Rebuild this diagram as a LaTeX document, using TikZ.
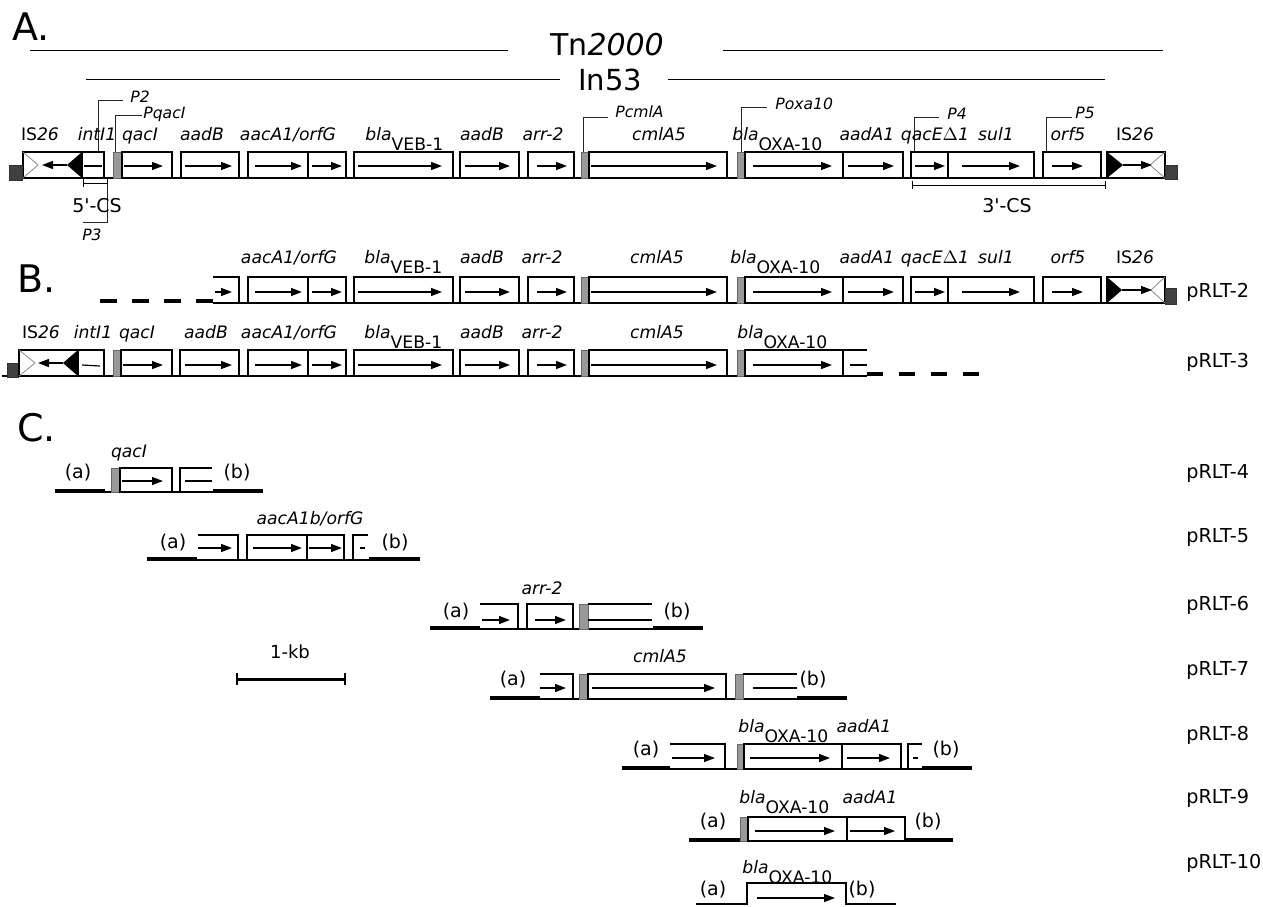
\documentclass[tikz,border=0pt]{standalone}
\usepackage{fontspec}
\setmainfont{DejaVu Sans}
\usetikzlibrary{arrows.meta}
\tikzset{
 gbox/.style={draw=black, line width=0.6pt, fill=white},
 graybox/.style={draw=black!60, line width=0.4pt, fill=black!40},
 garr/.style={line width=0.7pt, -{Triangle[length=5.5pt,width=4pt]}},
 bline/.style={line width=0.6pt},
 baseln/.style={line width=1pt},
 tbar/.style={line width=2.2pt},
 pmark/.style={line width=0.4pt, draw=black!85},
 isx/.style={draw=black!45, line width=0.4pt},
 dsq/.style={fill=black!75, draw=black!80, line width=0.3pt},
 glab/.style={font=\fontsize{8.6}{9}\selectfont\itshape, anchor=base, inner sep=0pt},
 blab/.style={font=\fontsize{8.6}{9}\selectfont\itshape, anchor=base west, inner sep=0pt},
 plab/.style={font=\fontsize{7.8}{9}\selectfont\itshape, anchor=base west, inner sep=0pt},
 rlab/.style={font=\fontsize{9.6}{10}\selectfont, anchor=base west, inner sep=0pt},
 ablab/.style={font=\fontsize{9.5}{11}\selectfont, inner sep=0pt},
 cslab/.style={font=\fontsize{9.5}{11}\selectfont, anchor=base, inner sep=0pt},
 seclab/.style={font=\fontsize{19}{22}\selectfont, anchor=base west, inner sep=0pt},
}
\newcommand\GB[4]{\draw[gbox] (#1,#3) rectangle (#2,#4);}
\newcommand\GA[3]{\draw[garr] (#1,#3) -- (#2,#3);}
\newcommand\GR[4]{\draw[graybox] (#1,#3) rectangle (#2,#4);}
\newcommand\BLA[1]{bla\raisebox{-5pt}{\upshape #1}}
\newcommand\MIDROW[3]{%
 \GB{248}{346}{#1}{#2}\draw[bline] (308,#1)--(308,#2);\GA{255}{302}{#3}\GA{312}{342}{#3}
 \GB{354}{453}{#1}{#2}\GA{358}{442}{#3}
 \GB{460}{519}{#1}{#2}\GA{465}{510}{#3}
 \GB{528}{574}{#1}{#2}\GA{537}{567}{#3}
 \GR{581}{589}{#1}{#2}
 \GB{589}{727}{#1}{#2}\GA{591}{717}{#3}
 \GR{737}{745}{#1}{#2}
 \GB{745}{843}{#1}{#2}\GA{753}{832}{#3}}
\newcommand\RIGHTROW[3]{%
 \GB{843}{903}{#1}{#2}\GA{848}{894}{#3}
 \GB{911}{948}{#1}{#2}\GA{915}{945}{#3}
 \GB{948}{1034}{#1}{#2}\GA{962}{1020}{#3}
 \GB{1043}{1101}{#1}{#2}\GA{1052}{1083}{#3}
 \GB{1107}{1165}{#1}{#2}}
\newcommand\MIDLAB[1]{%
 \node[glab] at (289,#1) {aacA1/orfG};
 \node[blab] at (364,#1) {\BLA{VEB-1}};
 \node[glab] at (482,#1) {aadB};
 \node[glab] at (542,#1) {arr-2};
 \node[glab] at (657,#1) {cmlA5};}
\newcommand\RIGHTLAB[1]{%
 \node[glab] at (867,#1) {aadA1};
 \node[glab] at (935,#1) {qacE\(\Delta\)1};
 \node[glab] at (996,#1) {sul1};
 \node[glab] at (1068,#1) {orf5};
 \node[glab] at (1135,#1) {\upshape IS\itshape 26};}
\begin{document}
\begin{tikzpicture}[x=0.5pt,y=-0.5pt]
\useasboundingbox[fill=white] (0,0) rectangle (1263,906);
% ---------- A ----------
\node[seclab] (secA) at (12,40) {A.};
\draw[line width=0.5pt] (30,50) -- (508,50);
\draw[line width=0.5pt] (723,50) -- (1163,50);
\node[font=\fontsize{15}{18}\selectfont, anchor=base, inner sep=0pt] (tn) at (607,55) {Tn\textit{2000}};
\draw[line width=0.5pt] (86,79) -- (560,79);
\draw[line width=0.5pt] (668,79) -- (1105,79);
\node[font=\fontsize{14.5}{18}\selectfont, anchor=base, inner sep=0pt] (in) at (610,90) {In53};
\draw[baseln] (22,178) -- (1165,178);
% left IS26
\GB{23}{82}{152}{178}
\draw[isx] (23,152)--(38,165)--(23,178);
\fill (82,152)--(67,165)--(82,178)--cycle;
\draw[garr] (67,165)--(42,165);
\draw[dsq] (9,165) rectangle (22,180);
% intI1
\GB{82}{104}{152}{178}
\draw[bline] (84,166)--(102,166);
\draw[pmark] (98,152)--(98,100)--(123,100);
\node[plab] at (130,102) {P2};
\GR{113}{122}{152}{178}
\draw[pmark] (115,152)--(115,115)--(142,115);
\node[plab] at (143,118) {PqacI};
\GB{122}{172}{152}{178}\GA{124}{163}{166}
\GB{181}{239}{152}{178}\GA{185}{232}{166}
\MIDROW{152}{178}{166}
\RIGHTROW{152}{178}{166}
\draw[pmark] (583,152)--(583,117)--(608,117);
\node[plab] at (615,117) {PcmlA};
\draw[pmark] (741,152)--(741,107)--(767,107);
\node[plab] at (775,109) {Poxa10};
\draw[pmark] (914,152)--(914,117)--(939,117);
\node[plab] at (947,119) {P4};
\draw[pmark] (1046,152)--(1046,117)--(1072,117);
\node[plab] at (1075,118) {P5};
% right IS26
\draw[isx] (1165,152)--(1150,165)--(1165,178);
\fill (1107,152)--(1123,165)--(1107,178)--cycle;
\draw[garr] (1123,165)--(1152,165);
\draw[dsq] (1165,165) rectangle (1177,179);
% labels A
\node[glab] at (40,140) {\upshape IS\itshape 26};
\node[glab] at (97,140) {intI1};
\node[glab] at (140,140) {qacI};
\node[glab] at (202,140) {aadB};
\node[glab] at (288,140) {aacA1/orfG};
\node[blab] at (365,140) {\BLA{VEB-1}};
\node[glab] at (482,140) {aadB};
\node[glab] at (543,140) {arr-2};
\node[glab] at (659,140) {cmlA5};
\node[blab] at (732,140) {\BLA{OXA-10}};
\RIGHTLAB{140}
% 5'-CS and 3'-CS
\draw[line width=0.4pt, {Bar[width=4pt]}-{Bar[width=4pt]}] (83,183)--(108,183);
\draw[pmark] (107,183)--(107,222)--(83,222);
\node[cslab] at (97,212) {5\textquotesingle-CS};
\node[plab, anchor=base] at (92,240) {P3};
\draw[line width=0.4pt, {Bar[width=4pt]}-{Bar[width=4pt]}] (912,185)--(1106,185);
\node[cslab] at (1007,212) {3\textquotesingle-CS};
% ---------- B ----------
\node[seclab] (secB) at (17,292) {B.};
% pRLT-2
\draw[tbar, dash pattern=on 8.5pt off 7.5pt] (100,301)--(213,301);
\draw[baseln] (213,303)--(1165,303);
\draw[bline] (213,277)--(239,277)--(239,303);
\GA{215}{232}{292}
\MIDROW{277}{303}{292}
\RIGHTROW{277}{303}{292}
\draw[isx] (1165,277)--(1151,290)--(1165,303);
\fill (1107,277)--(1122,290)--(1107,303)--cycle;
\draw[garr] (1122,290)--(1152,290);
\draw[dsq] (1165,288) rectangle (1176,304);
\MIDLAB{263}
\node[blab] at (730,263) {\BLA{OXA-10}};
\RIGHTLAB{263}
\node[rlab] at (1186,297) {pRLT-2};
% pRLT-3
\draw[baseln] (2,376)--(867,376);
\draw[tbar, dash pattern=on 8pt off 8pt] (867,374)--(979,374);
\draw[dsq] (7,363) rectangle (18,377);
\GB{19}{78}{350}{376}
\draw[isx] (19,350)--(35,363)--(19,376);
\fill (78,350)--(63,363)--(78,376)--cycle;
\draw[garr] (63,363)--(38,363);
\GB{78}{104}{350}{376}
\draw[bline] (82,365)--(100,366);
\GR{113}{121}{350}{376}
\GB{121}{172}{350}{376}\GA{123}{163}{365}
\GB{180}{239}{350}{376}\GA{185}{232}{365}
\MIDROW{350}{376}{365}
\draw[bline] (843,350)--(867,350);
\draw[bline] (850,365)--(867,365);
\node[glab] at (41,338) {\upshape IS\itshape 26};
\node[glab] at (93,338) {intI1};
\node[glab] at (137,338) {qacI};
\node[glab] at (206,338) {aadB};
\MIDLAB{338}
\node[blab] at (737,338) {\BLA{OXA-10}};
\node[rlab] at (1186,367) {pRLT-3};
% ---------- C ----------
\node[seclab] (secC) at (17,441) {C.};
% pRLT-4
\draw[bline] (105,492)--(213,492);
\draw[tbar] (55,491)--(105,491);
\draw[tbar] (213,491)--(263,491);
\GR{111}{120}{468}{492}
\GB{120}{172}{468}{492}\GA{122}{163}{481}
\draw[bline] (180,492)--(180,468)--(212,468);
\draw[bline] (185,481)--(212,481);
\node[glab] at (129,457) {qacI};
\node[ablab] at (78,473) {(a)};
\node[ablab] at (237,473) {(b)};
\node[rlab] at (1186,478) {pRLT-4};
% pRLT-5
\draw[bline] (197,560)--(369,560);
\draw[tbar] (147,559)--(197,559);
\draw[tbar] (369,559)--(420,559);
\draw[bline] (198,535)--(238,535)--(238,560);
\GA{198}{232}{548}
\GB{247}{344}{535}{560}
\draw[bline] (307,535)--(307,560);
\GA{253}{302}{548}\GA{309}{342}{548}
\draw[bline] (353,560)--(353,535)--(368,535);
\draw[bline] (360,548)--(365,548);
\node[glab] at (310,524) {aacA1b/orfG};
\node[ablab] at (173,543) {(a)};
\node[ablab] at (395,543) {(b)};
\node[rlab] at (1186,542) {pRLT-5};
% pRLT-6
\draw[bline] (480,629)--(653,629);
\draw[tbar] (430,628)--(480,628);
\draw[tbar] (653,628)--(703,628);
\draw[bline] (480,604)--(518,604)--(518,629);
\GA{482}{510}{620}
\GB{527}{573}{604}{629}\GA{535}{566}{620}
\GR{579}{588}{604}{629}
\draw[bline] (588,604)--(652,604);
\draw[bline] (588,620)--(652,620);
\node[glab] at (542,594) {arr-2};
\node[ablab] at (456,612) {(a)};
\node[ablab] at (677,612) {(b)};
\node[rlab] at (1186,610) {pRLT-6};
% scale bar
\draw[line width=1.5pt] (237,679)--(345,679);
\draw[line width=1.2pt] (237,673)--(237,685) (345,673)--(345,685);
\node[font=\fontsize{9}{10}\selectfont, anchor=base, inner sep=0pt] at (290,658) {1-kb};
% pRLT-7
\draw[bline] (540,699)--(797,699);
\draw[tbar] (490,698)--(540,698);
\draw[tbar] (797,698)--(847,698);
\draw[bline] (540,674)--(573,674)--(573,699);
\GA{540}{566}{688}
\GR{579}{588}{674}{699}
\GB{588}{726}{674}{699}\GA{592}{715}{688}
\GR{735}{743}{674}{699}
\draw[bline] (743,674)--(797,674);
\draw[bline] (753,688)--(797,688);
\node[glab] at (660,662) {cmlA5};
\node[ablab] at (513,680) {(a)};
\node[ablab] at (813,680) {(b)};
\node[rlab] at (1186,675) {pRLT-7};
% pRLT-8
\draw[bline] (670,769)--(922,769);
\draw[tbar] (622,768)--(670,768);
\draw[tbar] (922,768)--(972,768);
\draw[bline] (670,744)--(725,744)--(725,769);
\GA{672}{715}{758}
\GR{737}{744}{744}{769}
\GB{744}{842}{744}{769}\GA{750}{830}{758}
\GB{842}{901}{744}{769}\GA{847}{890}{758}
\draw[bline] (908,769)--(908,744)--(922,744);
\draw[bline] (913,758)--(918,758);
\node[blab] at (738,732) {\BLA{OXA-10}};
\node[glab] at (864,732) {aadA1};
\node[ablab] at (646,750) {(a)};
\node[ablab] at (946,750) {(b)};
\node[rlab] at (1186,740) {pRLT-8};
% pRLT-9
\draw[tbar] (689,840)--(740,840);
\draw[tbar] (905,840)--(953,840);
\GR{740}{748}{817}{841}
\GB{748}{847}{817}{841}\GA{755}{835}{831}
\GB{847}{905}{817}{841}\GA{850}{895}{831}
\node[blab] at (739,803) {\BLA{OXA-10}};
\node[glab] at (870,803) {aadA1};
\node[ablab] at (713,822) {(a)};
\node[ablab] at (928,822) {(b)};
\node[rlab] at (1186,803) {pRLT-9};
% pRLT-10
\draw[bline] (696,904)--(747,904)--(747,883)--(846,883)--(846,904)--(896,904);
\GA{757}{835}{898}
\node[blab] at (742,873) {\BLA{OXA-10}};
\node[ablab] at (713,890) {(a)};
\node[ablab] at (862,890) {(b)};
\node[rlab] at (1186,868) {pRLT-10};
\end{tikzpicture}
\end{document}
